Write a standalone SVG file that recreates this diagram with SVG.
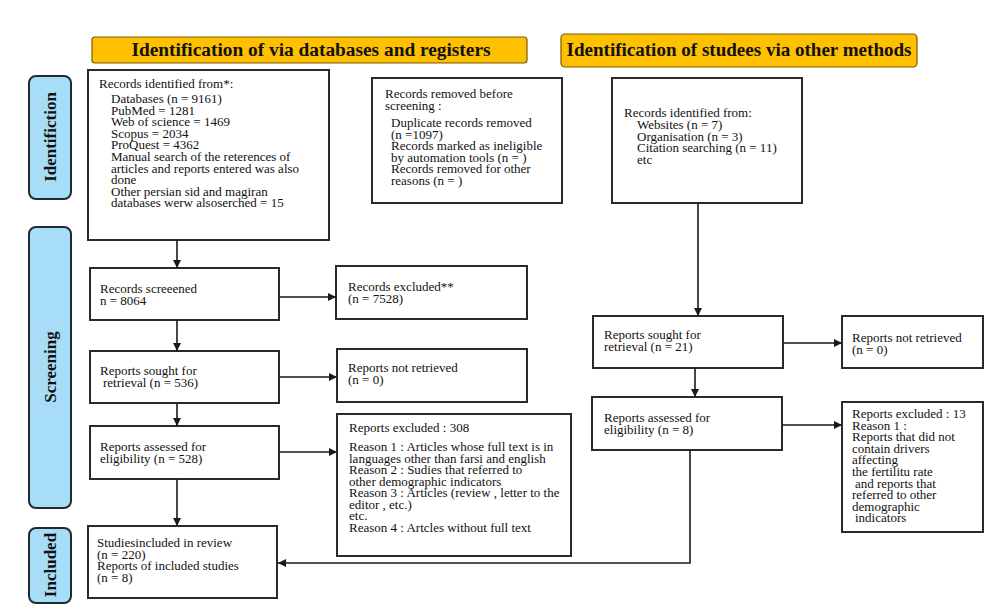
<svg xmlns="http://www.w3.org/2000/svg" width="1000" height="611" viewBox="0 0 1000 611">
<defs>
<style>
.box{fill:#fff;stroke:#2a2a2a;stroke-width:2}
.hdr{fill:#FFC000;stroke:#7a5a00;stroke-width:1.2}
.side{fill:#A8DDF7;stroke:#1f2a33;stroke-width:2}
.t{font-family:"Liberation Serif","Times New Roman",serif;font-size:13px;fill:#111}
.h{font-family:"Liberation Serif","Times New Roman",serif;font-size:18px;font-weight:bold;fill:#111}
.s{font-family:"Liberation Serif","Times New Roman",serif;font-size:17px;font-weight:bold;fill:#111}
.c{fill:none;stroke:#1a1a1a;stroke-width:1.6}
</style>
<marker id="ah" viewBox="0 0 10 10" refX="10" refY="5" markerWidth="9" markerHeight="8" markerUnits="userSpaceOnUse" orient="auto">
<path d="M0,0 L10,5 L0,10 z" fill="#1a1a1a"/>
</marker>
</defs>
<rect width="1000" height="611" fill="#fff"/>

<g id="header-databases">
<rect class="hdr" x="92" y="37" width="435" height="26" rx="3"/>
<text class="h" x="311" y="56" text-anchor="middle" textLength="359" lengthAdjust="spacingAndGlyphs">Identification of via databases and registers</text>
</g>
<g id="header-other">
<rect class="hdr" x="561" y="34" width="356" height="33" rx="4"/>
<text class="h" x="739" y="56" text-anchor="middle" textLength="345" lengthAdjust="spacingAndGlyphs">Identification of studees via other methods</text>
</g>

<g id="side-identification">
<rect class="side" x="29" y="76" width="42" height="123" rx="7"/>
<text class="s" transform="translate(56,137) rotate(-90)" text-anchor="middle">Identifiction</text>
</g>
<g id="side-screening">
<rect class="side" x="29" y="227" width="42" height="281" rx="7"/>
<text class="s" transform="translate(56,367) rotate(-90)" text-anchor="middle">Screening</text>
</g>
<g id="side-included">
<rect class="side" x="29" y="528" width="42" height="75" rx="7"/>
<text class="s" transform="translate(56,565) rotate(-90)" text-anchor="middle">Included</text>
</g>

<g id="records-identified">
<rect class="box" x="88" y="70" width="241" height="170"/>
<text class="t" x="99" y="88">Records identified from*:</text>
<text class="t" x="111" y="103">Databases (n = 9161)</text>
<text class="t" x="111" y="114.6">PubMed = 1281</text>
<text class="t" x="111" y="126.2">Web of science = 1469</text>
<text class="t" x="111" y="137.8">Scopus = 2034</text>
<text class="t" x="111" y="149.4">ProQuest = 4362</text>
<text class="t" x="111" y="161">Manual search of the reterences of</text>
<text class="t" x="111" y="172.6">articles and reports entered was also</text>
<text class="t" x="111" y="184.2">done</text>
<text class="t" x="111" y="195.8">Other persian sid and magiran</text>
<text class="t" x="111" y="207.4">databases werw alsoserched = 15</text>
</g>

<g id="records-removed">
<rect class="box" x="372" y="78" width="190" height="125"/>
<text class="t" x="385" y="98">Records removed before</text>
<text class="t" x="385" y="109.5">screening :</text>
<text class="t" x="391" y="127">Duplicate records removed</text>
<text class="t" x="391" y="138.5">(n =1097)</text>
<text class="t" x="391" y="150">Records marked as ineligible</text>
<text class="t" x="391" y="161.5">by automation tools (n = )</text>
<text class="t" x="391" y="173">Records removed for other</text>
<text class="t" x="391" y="184.5">reasons (n = )</text>
</g>

<g id="records-other">
<rect class="box" x="612" y="78" width="190" height="125"/>
<text class="t" x="624" y="117">Records identified from:</text>
<text class="t" x="637" y="129">Websites (n = 7)</text>
<text class="t" x="637" y="140.5">Organisation (n = 3)</text>
<text class="t" x="637" y="152">Citation searching (n = 11)</text>
<text class="t" x="637" y="163.5">etc</text>
</g>

<g id="records-screened">
<rect class="box" x="90" y="268" width="189" height="52"/>
<text class="t" x="100" y="293">Records screeened</text>
<text class="t" x="100" y="304.5">n = 8064</text>
</g>

<g id="records-excluded">
<rect class="box" x="336" y="266" width="191" height="53"/>
<text class="t" x="348" y="291">Records excluded**</text>
<text class="t" x="348" y="302.5">(n = 7528)</text>
</g>

<g id="reports-sought">
<rect class="box" x="90" y="351" width="189" height="52"/>
<text class="t" x="100" y="375">Reports sought for</text>
<text class="t" x="103" y="386.5">retrieval (n = 536)</text>
</g>

<g id="reports-not-retrieved">
<rect class="box" x="337" y="349" width="190" height="53"/>
<text class="t" x="348" y="372">Reports not retrieved</text>
<text class="t" x="348" y="383.5">(n = 0)</text>
</g>

<g id="reports-assessed">
<rect class="box" x="90" y="426" width="189" height="53"/>
<text class="t" x="100" y="451">Reports assessed for</text>
<text class="t" x="100" y="462.5">eligibility (n = 528)</text>
</g>

<g id="reports-excluded">
<rect class="box" x="337" y="414" width="234" height="142"/>
<text class="t" x="349" y="432">Reports excluded : 308</text>
<text class="t" x="349" y="451">Reason 1 :  Articles whose full text is in</text>
<text class="t" x="349" y="462.5">languages other than farsi and english</text>
<text class="t" x="349" y="474">Reason 2 :  Sudies that referred to</text>
<text class="t" x="349" y="485.5">other demographic indicators</text>
<text class="t" x="349" y="497">Reason 3 :  Articles (review , letter to the</text>
<text class="t" x="349" y="508.5">editor , etc.)</text>
<text class="t" x="349" y="520">etc.</text>
<text class="t" x="349" y="531.5">Reason 4 :  Artcles without full text</text>
</g>

<g id="studies-included">
<rect class="box" x="88" y="526" width="189" height="72"/>
<text class="t" x="97" y="547">Studiesincluded in review</text>
<text class="t" x="97" y="558.5">(n = 220)</text>
<text class="t" x="97" y="570">Reports of included studies</text>
<text class="t" x="97" y="581.5">(n = 8)</text>
</g>

<g id="reports-sought-other">
<rect class="box" x="593" y="316" width="190" height="52"/>
<text class="t" x="604" y="339">Reports sought for</text>
<text class="t" x="604" y="350.5">retrieval (n = 21)</text>
</g>

<g id="reports-not-retrieved-other">
<rect class="box" x="842" y="316" width="141" height="52"/>
<text class="t" x="852" y="342">Reports not retrieved</text>
<text class="t" x="852" y="353.5">(n = 0)</text>
</g>

<g id="reports-assessed-other">
<rect class="box" x="592" y="397" width="190" height="53"/>
<text class="t" x="604" y="422">Reports assessed for</text>
<text class="t" x="604" y="433.5">eligibility (n = 8)</text>
</g>

<g id="reports-excluded-other">
<rect class="box" x="842" y="402" width="141" height="130"/>
<text class="t" x="852" y="418">Reports excluded : 13</text>
<text class="t" x="852" y="429.6">Reason 1 :</text>
<text class="t" x="852" y="441.2">Reports that did not</text>
<text class="t" x="852" y="452.8">contain drivers</text>
<text class="t" x="852" y="464.4">affecting</text>
<text class="t" x="852" y="476">the fertilitu rate</text>
<text class="t" x="855" y="487.6">and reports that</text>
<text class="t" x="852" y="499.2">referred to other</text>
<text class="t" x="852" y="510.8">demographic</text>
<text class="t" x="855" y="522.4">indicators</text>
</g>

<g id="connectors">
<path class="c" d="M177,240 V268" marker-end="url(#ah)"/>
<path class="c" d="M177,320 V351" marker-end="url(#ah)"/>
<path class="c" d="M177,403 V426" marker-end="url(#ah)"/>
<path class="c" d="M177,479 V526" marker-end="url(#ah)"/>
<path class="c" d="M279,297 H336" marker-end="url(#ah)"/>
<path class="c" d="M279,377 H337" marker-end="url(#ah)"/>
<path class="c" d="M279,452 H337" marker-end="url(#ah)"/>
<path class="c" d="M698,203 V316" marker-end="url(#ah)"/>
<path class="c" d="M695,368 V397" marker-end="url(#ah)"/>
<path class="c" d="M783,343 H842" marker-end="url(#ah)"/>
<path class="c" d="M782,425 H842" marker-end="url(#ah)"/>
<path class="c" d="M690,450 V563 H278" marker-end="url(#ah)"/>
</g>
</svg>
